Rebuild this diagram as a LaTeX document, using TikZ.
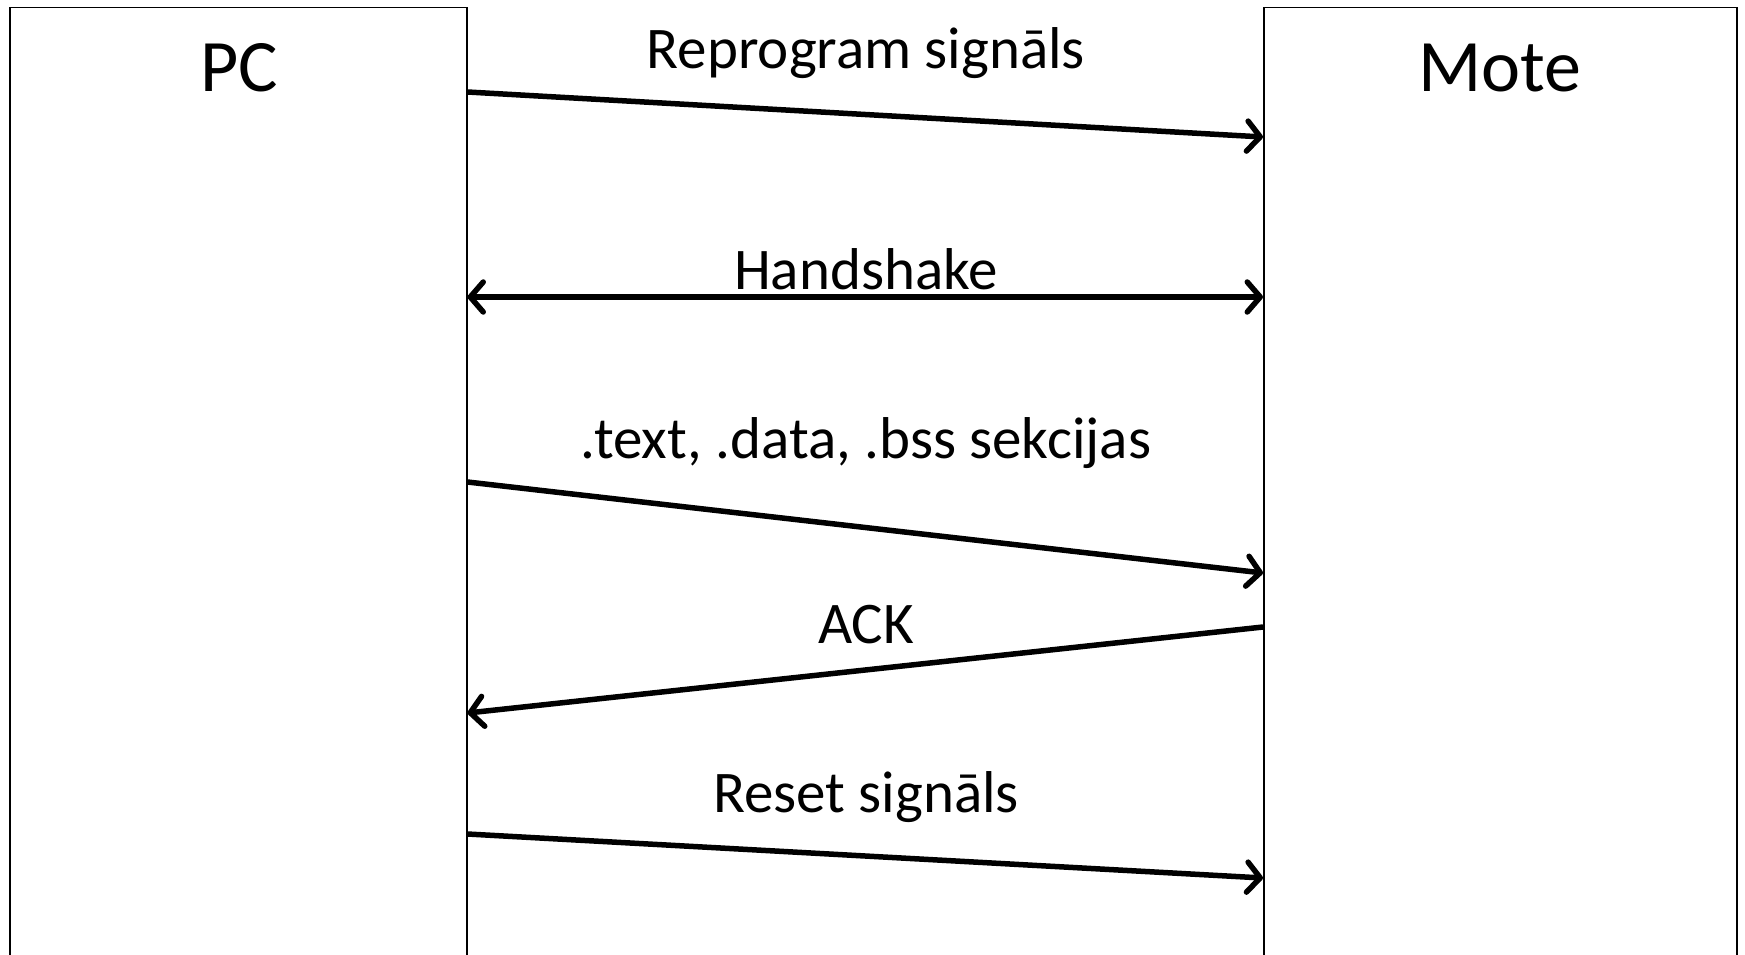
\documentclass[tikz,border=0pt]{standalone}
\usepackage{fontspec}
\setmainfont{Carlito}
\usetikzlibrary{arrows.meta}

\begin{document}
\begin{tikzpicture}[x=1pt,y=-1pt]
\tikzstyle{every node}=[inner sep=0pt]
\tikzstyle{lane}=[draw,line width=1.5pt,minimum width=457pt,minimum height=1000pt,anchor=north west]
\tikzstyle{title}=[font=\fontsize{74}{80}\selectfont,anchor=base]
\tikzstyle{label}=[font=\fontsize{59}{64}\selectfont,anchor=base]
\tikzstyle{msg}=[line width=5.5pt,-{Straight Barb[length=13pt,width=30pt,round]}]
\tikzstyle{duplex}=[msg,{Straight Barb[length=13pt,width=30pt,round]}-{Straight Barb[length=13pt,width=30pt,round]}]

\useasboundingbox (0,0) rectangle (1745,955);
\fill[white] (0,0) rectangle (1745,955);

% PC and Mote columns, bottoms run off the page
\node[lane] (pc) at (9,7) {};
\node[lane,minimum width=473pt] (mote) at (1263,7) {};

\node[title] (pcname) at (239,92) {PC};
\node[title] (motename) at (1500,92) {Mote};

% messages
\node[label] (reprog) at (866,69) {Reprogram signāls};
\draw[msg] (pc.east |- 0,92) -- (mote.west |- 0,137);

\node[label] (hand) at (866,289) {Handshake};
\draw[duplex] (pc.east |- 0,297) -- (mote.west |- 0,297);

\node[label] (sect) at (866,458) {.text, .data, .bss sekcijas};
\draw[msg] (pc.east |- 0,482) -- (mote.west |- 0,573);

\node[label] (ack) at (866,643) {ACK};
\draw[msg] (mote.west |- 0,627) -- (pc.east |- 0,713);

\node[label] (reset) at (866,812) {Reset signāls};
\draw[msg] (pc.east |- 0,834) -- (mote.west |- 0,878);

\end{tikzpicture}
\end{document}
